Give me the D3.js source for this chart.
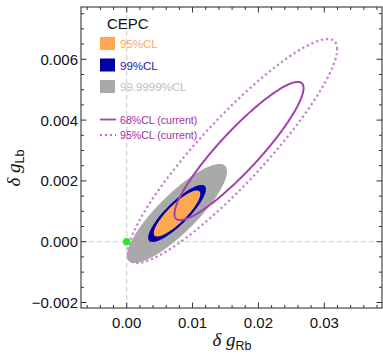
<!DOCTYPE html>
<meta charset="utf-8">
<style>
    body { margin: 0; background: #fff; }
    .tick-label { font-family: "Liberation Sans", Arial, sans-serif; font-size: 15px; fill: #111; }
    .legend text { font-family: "Liberation Sans", Arial, sans-serif; font-size: 11.5px; }
    .legend text.cur { font-size: 10.6px; }
    .title { font-family: "Liberation Serif", "Times New Roman", serif; font-size: 19px; font-style: italic; fill: #111; }
    .title .sub { font-family: "Liberation Sans", Arial, sans-serif; font-style: normal; font-size: 12.5px; }
</style>
<body>
<svg id="chart" width="383" height="354"></svg>
</body>
<script src="https://cdn.jsdelivr.net/npm/d3@7"></script>
<script>
    var width = 383,
        height = 354,
        margin = {top: 7, right: 1, bottom: 46, left: 81};

    // axis ranges and ticks
    var xDomain = [-0.00694, 0.03876];
    var yDomain = [-0.00218, 0.00772];
    var xMajor = [0, 0.01, 0.02, 0.03];
    var xLabels = ["0.00", "0.01", "0.02", "0.03"];
    var yMajor = [-0.002, 0, 0.002, 0.004, 0.006];
    var yLabels = ["\u22120.002", "0.000", "0.002", "0.004", "0.006"];

    // CEPC projection: centre, sigmas, correlation and confidence levels
    var cepcCenter = [0.00764, 0.000928];
    var cepcSigma = [0.001444, 0.0003097];
    var cepcRho = 0.85;
    var cepcCL = [0.999999, 0.99, 0.95];
    var cepcNames = ["99.9999%CL", "99%CL", "95%CL"];
    var cepcColors = ["#a9a9a9", "#0000a6", "#ffa852"];
    var cepcText = ["#bdbdbd", "#1a1ab0", "#ffa852"];

    // current constraints
    var curCL = [0.68, 0.95];
    var curNames = ["68%CL (current)", "95%CL (current)"];
    var curCx = [0.01705, 0.01606];
    var curCy = [0.002984, 0.002984];
    var curSigma = [0.00649, 0.001505];
    var curRho = 0.91;

    var smPoint = [0, 0];

    var svg = d3.select("#chart");
    var iw = width - margin.left - margin.right,
        ih = height - margin.top - margin.bottom;

    var x = d3.scaleLinear().domain(xDomain).range([margin.left, margin.left + iw]);
    var y = d3.scaleLinear().domain(yDomain).range([margin.top + ih, margin.top]);

    function kOf(cl) { return Math.sqrt(-2 * Math.log(1 - cl)); }

    function ellipse(cx, cy, sx, sy, rho, k) {
        var s = Math.sqrt(1 - rho * rho);
        return d3.range(0, 360).map(function(i) {
            var t = i / 360 * 2 * Math.PI;
            return [x(cx + k * sx * Math.cos(t)),
                    y(cy + k * sy * (rho * Math.cos(t) + s * Math.sin(t)))];
        });
    }
    var line = d3.line().curve(d3.curveLinearClosed);

    var plot = svg.append("g");
    svg.append("clipPath").attr("id", "clip").append("rect")
        .attr("x", margin.left).attr("y", margin.top).attr("width", iw).attr("height", ih);
    plot.attr("clip-path", "url(#clip)");

    // dashed zero lines
    plot.append("line")
        .attr("x1", x(0)).attr("x2", x(0)).attr("y1", margin.top).attr("y2", margin.top + ih)
        .attr("stroke", "#d4d4d4").attr("stroke-width", 1.3).attr("stroke-dasharray", "5,3");
    plot.append("line")
        .attr("x1", margin.left).attr("x2", margin.left + iw).attr("y1", y(0)).attr("y2", y(0))
        .attr("stroke", "#d4d4d4").attr("stroke-width", 1.3).attr("stroke-dasharray", "5,3");

    // CEPC filled regions
    cepcCL.forEach(function(cl, i) {
        plot.append("path")
            .attr("d", line(ellipse(cepcCenter[0], cepcCenter[1], cepcSigma[0], cepcSigma[1], cepcRho, kOf(cl))))
            .attr("fill", cepcColors[i]);
    });

    // current contours
    curCL.forEach(function(cl, i) {
        var p = plot.append("path")
            .attr("d", line(ellipse(curCx[i], curCy[i], curSigma[0], curSigma[1], curRho, kOf(cl))))
            .attr("fill", "none");
        if (i == 0) {
            p.attr("stroke", "#a43fb0").attr("stroke-width", 2);
        } else {
            p.attr("stroke", "#c784d2").attr("stroke-width", 2.3).attr("stroke-dasharray", "2.3,2.8");
        }
    });

    plot.append("circle")
        .attr("cx", x(smPoint[0])).attr("cy", y(smPoint[1])).attr("r", 3.8)
        .attr("fill", "#2ee62e");

    // frame
    svg.append("rect")
        .attr("x", margin.left).attr("y", margin.top).attr("width", iw).attr("height", ih)
        .attr("fill", "none").attr("stroke", "#222").attr("stroke-width", 1);

    // ticks on all four sides, pointing inward
    var xMinor = d3.range(-6, 39, 2).map(function(d) { return d / 1000; });
    var yMinor = d3.range(-4, 16, 1).map(function(d) { return d / 2000; });
    var ticks = svg.append("g").attr("stroke", "#333").attr("stroke-width", 1);
    xMinor.forEach(function(v) {
        var major = xMajor.some(function(m) { return Math.abs(m - v) < 1e-9; });
        var len = major ? 5.5 : 3;
        ticks.append("line").attr("x1", x(v)).attr("x2", x(v))
            .attr("y1", margin.top + ih).attr("y2", margin.top + ih - len);
        ticks.append("line").attr("x1", x(v)).attr("x2", x(v))
            .attr("y1", margin.top).attr("y2", margin.top + len);
    });
    yMinor.forEach(function(v) {
        var major = yMajor.some(function(m) { return Math.abs(m - v) < 1e-9; });
        var len = major ? 5.5 : 3;
        ticks.append("line").attr("y1", y(v)).attr("y2", y(v))
            .attr("x1", margin.left).attr("x2", margin.left + len);
        ticks.append("line").attr("y1", y(v)).attr("y2", y(v))
            .attr("x1", margin.left + iw).attr("x2", margin.left + iw - len);
    });

    svg.selectAll(".xl").data(xMajor).enter().append("text")
        .attr("class", "tick-label")
        .attr("x", function(d) { return x(d); })
        .attr("y", margin.top + ih + 20)
        .attr("text-anchor", "middle")
        .text(function(d, i) { return xLabels[i]; });
    svg.selectAll(".yl").data(yMajor).enter().append("text")
        .attr("class", "tick-label")
        .attr("x", margin.left - 3)
        .attr("y", function(d) { return y(d); })
        .attr("dy", "0.36em")
        .attr("text-anchor", "end")
        .text(function(d, i) { return yLabels[i]; });

    // axis titles
    var xt = svg.append("text").attr("class", "title")
        .attr("x", 232).attr("y", 346).attr("text-anchor", "middle");
    xt.append("tspan").text("\u03b4 g");
    xt.append("tspan").attr("class", "sub").attr("dy", 4).text("Rb");

    var yt = svg.append("text").attr("class", "title")
        .attr("transform", "translate(20,168) rotate(-90)").attr("text-anchor", "middle");
    yt.append("tspan").text("\u03b4 g");
    yt.append("tspan").attr("class", "sub").attr("dy", 4).text("Lb");

    // legend
    var legend = svg.append("g").attr("class", "legend");
    legend.append("text").attr("x", 107).attr("y", 29)
        .style("font-size", "15px").attr("fill", "#111").text("CEPC");
    var order = [2, 1, 0];
    order.forEach(function(j, i) {
        var yy = 37 + i * 21.5;
        legend.append("rect").attr("x", 100).attr("y", yy).attr("width", 15).attr("height", 13)
            .attr("fill", cepcColors[j]);
        legend.append("text").attr("x", 120).attr("y", yy + 11)
            .attr("fill", cepcText[j]).text(cepcNames[j]);
    });
    curNames.forEach(function(n, i) {
        var yy = 119.5 + i * 15.5;
        var l = legend.append("line").attr("x1", 100).attr("x2", 116).attr("y1", yy).attr("y2", yy);
        if (i == 0) {
            l.attr("stroke", "#a43fb0").attr("stroke-width", 1.8);
        } else {
            l.attr("stroke", "#a43fb0").attr("stroke-width", 1.6).attr("stroke-dasharray", "2,3");
        }
        legend.append("text").attr("class", "cur").attr("x", 120).attr("y", yy + 4)
            .attr("fill", "#a0309f").text(n);
    });
</script>
